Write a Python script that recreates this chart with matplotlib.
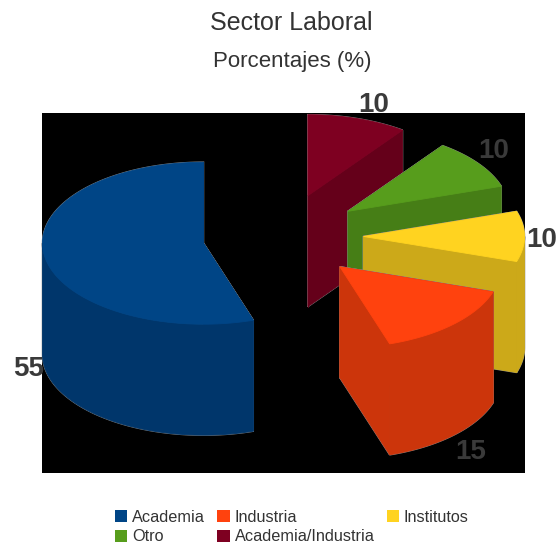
"""Exploded 3D pie of labour sectors, drawn as flat faces on a black plot area."""
import numpy as np
import matplotlib
matplotlib.use('Agg')
import matplotlib.pyplot as plt
from matplotlib.patches import Polygon, Patch

plt.rcParams['font.family'] = ['Liberation Sans', 'DejaVu Sans']

categories = ['Academia', 'Industria', 'Institutos', 'Otro', 'Academia/Industria']
values = [55, 15, 10, 10, 10]

top_colors = ['#004586', '#ff420e', '#ffd320', '#579d1c', '#7e0021']
side_colors = ['#00366b', '#cc350b', '#cca919', '#467e16', '#65001a']

# pie shape, in units of the horizontal radius
TILT = 0.503
DEPTH = 0.689
EXPLODE = 0.5
EXPLODE_Y = 0.53
START_ANGLE = 90.0

FIG_W, FIG_H = 557, 547
PLOT_BOX = (42, 113, 525, 473)  # left, top, right, bottom in pixels
CENTER_PX = (283, 236.5)
RADIUS_PX = 161.0
TEXT_COLOR = '#333333'
LABEL_COLOR = '#3a3a3a'
EDGE_COLOR = '#8c8c8c'


def rim(a0, a1, cx, cy):
    """Points along the top ellipse between two angles in degrees."""
    t = np.radians(np.linspace(a0, a1, 120))
    return np.column_stack([cx + np.cos(t), cy + TILT * np.sin(t)])


def wedge_faces(a0, a1):
    """Return the top, side faces of one exploded slice, back to front."""
    mid = np.radians((a0 + a1) / 2.0)
    cx = EXPLODE * np.cos(mid)
    cy = EXPLODE_Y * TILT * np.sin(mid)
    apex = np.array([[cx, cy]])
    down = np.array([0.0, DEPTH])
    arc = rim(a0, a1, cx, cy)

    sides = []
    for end in (arc[0], arc[-1]):
        end = end.reshape(1, 2)
        sides.append(np.vstack([apex, end, end - down, apex - down]))

    # the outer wall only shows on the front half of the ellipse
    lo, hi = max(a0, 180.0), min(a1, 360.0)
    if lo < hi:
        wall = rim(lo, hi, cx, cy)
        sides.append(np.vstack([wall, wall[::-1] - down]))
    top = np.vstack([apex, arc])
    return top, sides


def px_to_fig(x, y):
    return x / FIG_W, 1 - y / FIG_H


fig = plt.figure(figsize=(FIG_W / 100, FIG_H / 100), dpi=100, facecolor='white')
left, top_px, right, bottom = PLOT_BOX
ax = fig.add_axes([left / FIG_W, 1 - bottom / FIG_H, (right - left) / FIG_W, (bottom - top_px) / FIG_H])
ax.set_facecolor('black')
ax.set_xlim((left - CENTER_PX[0]) / RADIUS_PX, (right - CENTER_PX[0]) / RADIUS_PX)
ax.set_ylim((CENTER_PX[1] - bottom) / RADIUS_PX, (CENTER_PX[1] - top_px) / RADIUS_PX)
ax.set_xticks([])
ax.set_yticks([])
for spine in ax.spines.values():
    spine.set_visible(False)

# slices run counter-clockwise from the top
angles = START_ANGLE + np.cumsum([0] + values) * 3.6
slices = []
for i in range(len(values)):
    slices.append((i, wedge_faces(angles[i], angles[i + 1])))

# paint from the back of the scene to the front
draw_order = [0, 4, 3, 2, 1]
for i in draw_order:
    top, sides = slices[i][1]
    # thin outline around the whole slice, then the faces over it
    for face in sides + [top]:
        ax.add_patch(Polygon(face, closed=True, facecolor=EDGE_COLOR, edgecolor=EDGE_COLOR,
                             linewidth=1.1, clip_on=False))
    for face in sides:
        ax.add_patch(Polygon(face, closed=True, facecolor=side_colors[i], edgecolor=side_colors[i],
                             linewidth=0.6, clip_on=False))
    ax.add_patch(Polygon(top, closed=True, facecolor=top_colors[i], edgecolor=top_colors[i],
                         linewidth=0.6, clip_on=False))

# titles
x, y = px_to_fig(291.5, 23)
fig.text(x, y, 'Sector Laboral', fontsize=18, color=TEXT_COLOR, ha='center', va='center')
x, y = px_to_fig(292.5, 62)
fig.text(x, y, 'Porcentajes (%)', fontsize=16, color=TEXT_COLOR, ha='center', va='center')

# value labels
label_px = [(29, 369), (471, 452), (542, 240), (494, 151), (374, 105)]
for value, (px, py) in zip(values, label_px):
    x, y = px_to_fig(px, py)
    fig.text(x, y, str(value), fontsize=20, fontweight='bold', color=LABEL_COLOR,
             ha='center', va='center', zorder=10)

# legend fills column by column
handles = [Patch(facecolor=c, edgecolor='none') for c in top_colors]
order = [0, 3, 1, 4, 2]
fig.legend([handles[i] for i in order], [categories[i] for i in order], ncols=3,
           loc='center', bbox_to_anchor=px_to_fig(292, 527), frameon=False,
           fontsize=11.7, labelcolor=TEXT_COLOR, handlelength=0.75, handleheight=0.75,
           handletextpad=0.31, columnspacing=0.75, labelspacing=0.28, borderpad=0)

fig.savefig('out.png', dpi=100)
